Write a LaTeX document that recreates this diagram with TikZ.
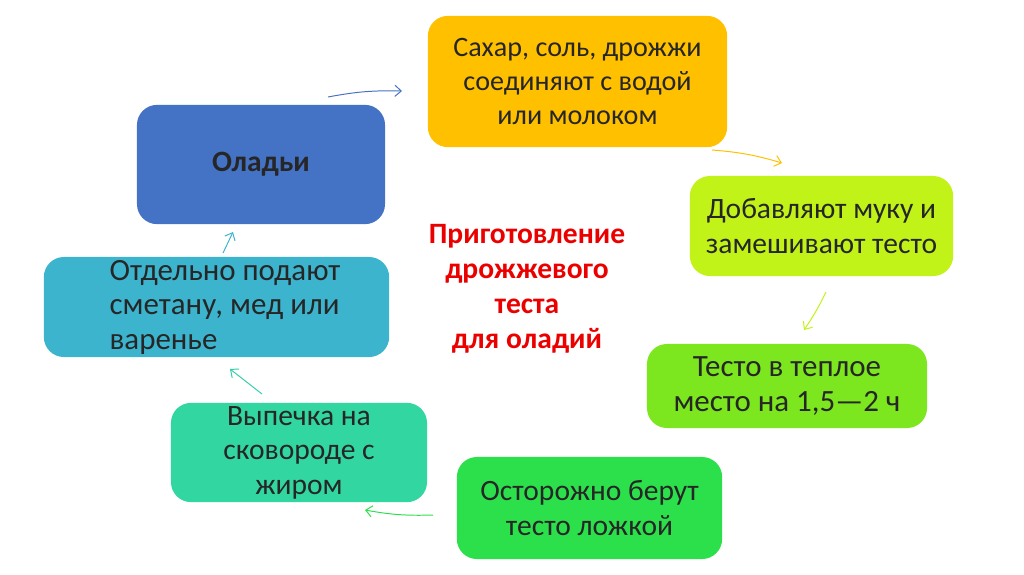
\documentclass[tikz,border=0pt]{standalone}
\usepackage{fontspec}
\setmainfont{Carlito}
\usetikzlibrary{arrows.meta,positioning}
\definecolor{ckblue}{RGB}{68,114,196}
\definecolor{ckyellow}{RGB}{255,192,0}
\definecolor{cklime}{RGB}{194,243,24}
\definecolor{ckgreen}{RGB}{124,230,30}
\definecolor{ckgreenb}{RGB}{44,224,76}
\definecolor{ckteal}{RGB}{50,214,160}
\definecolor{ckcyan}{RGB}{60,180,206}
\definecolor{ckred}{RGB}{235,0,0}

\begin{document}
\begin{tikzpicture}[x=0.025cm,y=-0.025cm,
      font=\fontsize{21}{24.5}\selectfont,
      q/.style={rounded corners=0.5cm,align=center,text=black!85,inner sep=0pt},
      arr/.style={-{Straight Barb[length=1.6mm,width=2.8mm]},line width=0.7pt}]
      \useasboundingbox (0,0) rectangle (1024,574);
      \node[q,fill=ckyellow,minimum width=7.48cm,minimum height=3.28cm,font=\fontsize{20}{24.5}\selectfont] (sugar) at (577.5,81.5)
        {Сахар, соль, дрожжи\\соединяют с водой\\или молоком};
      \node[q,fill=ckblue,minimum width=6.2cm,minimum height=2.98cm] (olad) at (261,164.5) {\textbf{Оладьи}};
      \node[q,fill=cklime,minimum width=6.58cm,minimum height=2.5cm] (flour) at (821.5,226)
        {Добавляют муку и\\замешивают тесто};
      \node[q,fill=ckgreen,minimum width=7cm,minimum height=2.1cm,font=\fontsize{22}{25}\selectfont] (warm) at (787,386)
        {Тесто в теплое\\место на 1,5—2 ч};
      \node[q,fill=ckgreenb,minimum width=6.63cm,minimum height=2.55cm] (spoon) at (589.5,508)
        {Осторожно берут\\тесто ложкой};
      \node[q,fill=ckteal,minimum width=6.4cm,minimum height=2.48cm] (bake) at (299,452.5)
        {Выпечка на\\сковороде с\\жиром};
      \node[q,fill=ckcyan,minimum width=8.63cm,minimum height=2.5cm] (serve) at (216.5,307) {};
      \node[align=left,text=black!85,font=\fontsize{22}{24.5}\selectfont] (servetxt) at (225,307)
        {Отдельно подают\\сметану, мед или\\варенье};
      \node[align=center,text=ckred,font=\fontsize{21}{25}\selectfont\bfseries] (title) at (527,289)
        {Приготовление\\дрожжевого\\теста\\ для оладий};
      % arrow ends
      \coordinate (a1) at (328,97);   \coordinate (b1) at (402,91);
      \coordinate (a2) at (712,150);  \coordinate (b2) at (782,163);
      \coordinate (a3) at (826,292);  \coordinate (b3) at (804,330);
      \coordinate (a4) at (433,515);  \coordinate (b4) at (365,510);
      \coordinate (a5) at (262,394);  \coordinate (b5) at (230,369);
      \coordinate (a6) at (223,253);  \coordinate (b6) at (233,232);
      \draw[arr,ckblue] (a1) to[bend left=6] (b1);
      \draw[arr,ckyellow] (a2) to[bend left=6] (b2);
      \draw[arr,cklime] (a3) to[bend left=4] (b3);
      \draw[arr,ckgreenb] (a4) to[bend right=-6] (b4);
      \draw[arr,ckteal!80!ckcyan] (a5) -- (b5);
      \draw[arr,ckcyan] (a6) -- (b6);
    \end{tikzpicture}
\end{document}
